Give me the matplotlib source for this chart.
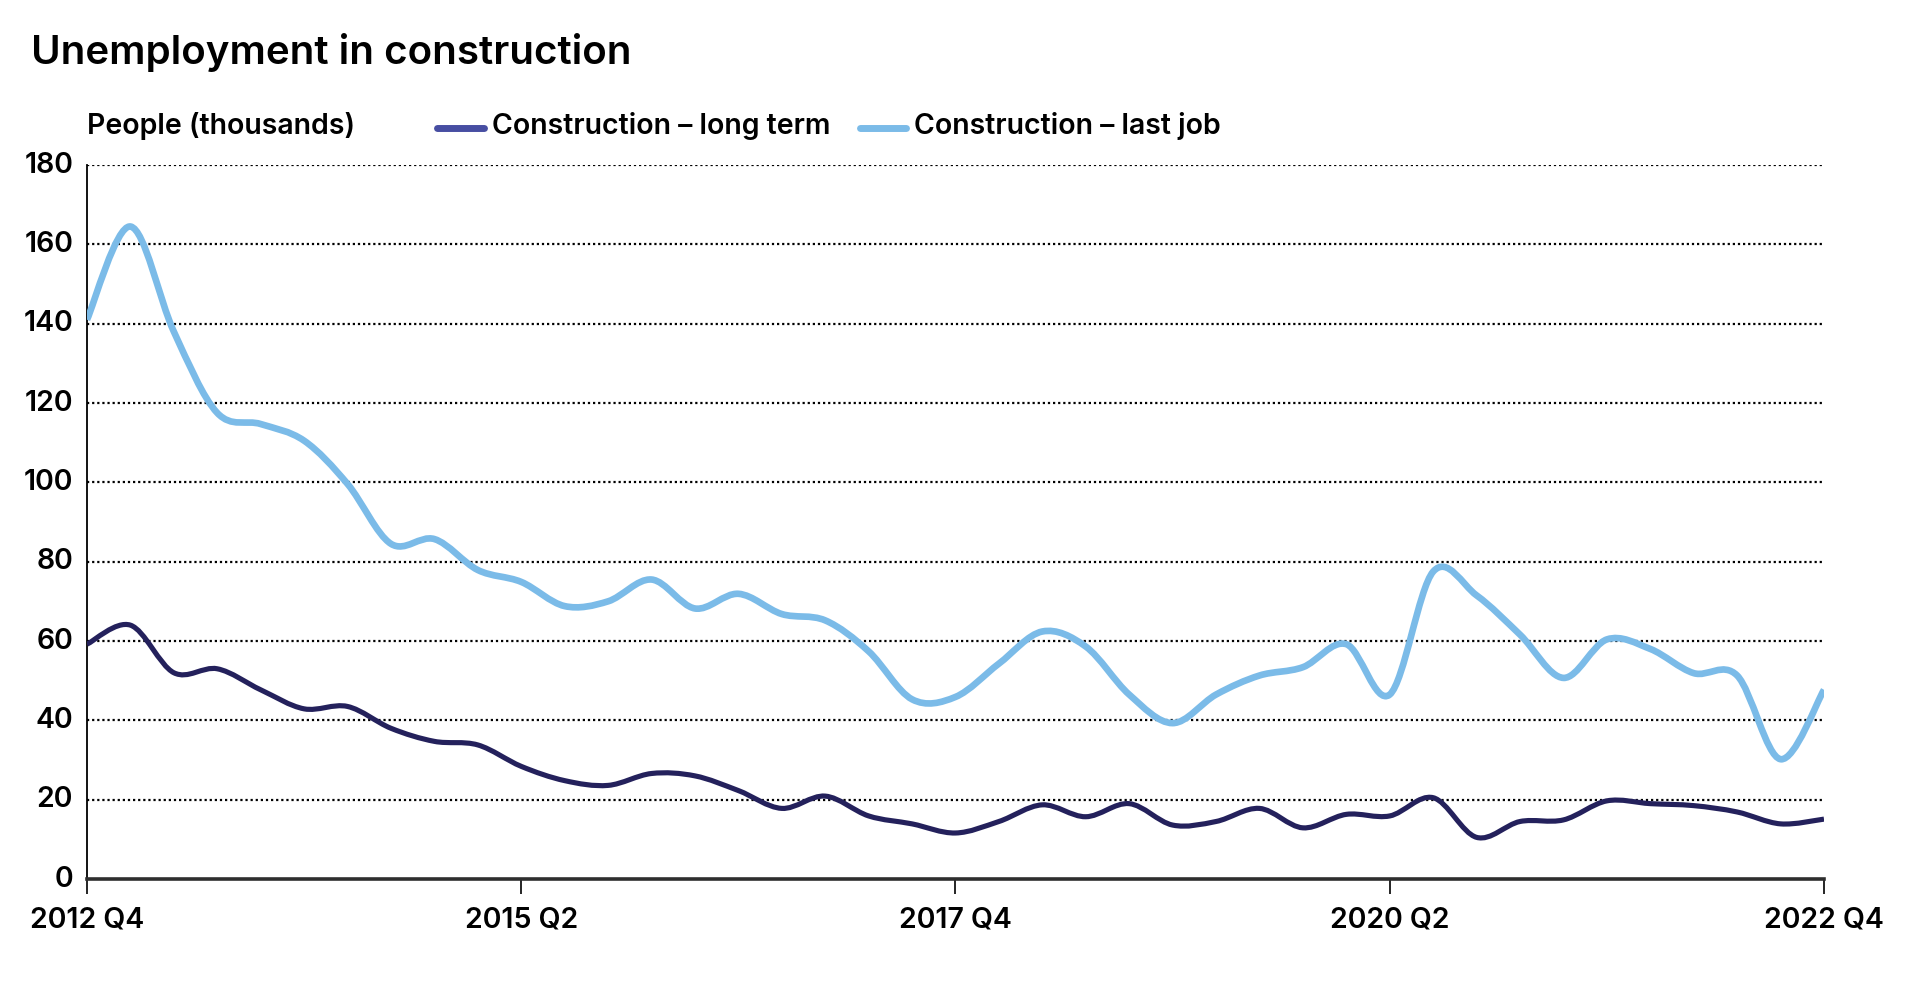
"""Unemployment in construction: long-term vs last-job, quarterly 2012 Q4 - 2022 Q4."""

import numpy as np
import matplotlib
matplotlib.use("Agg")
import matplotlib.pyplot as plt
import matplotlib.transforms as mtransforms
from matplotlib.path import Path
from matplotlib.patches import PathPatch
from matplotlib.lines import Line2D

# quarterly values (thousands), 2012 Q4 .. 2022 Q4
last_job = [141, 164.5, 138, 117.5, 114.7, 110.5, 99.6, 84.5, 85.7, 77.9,
            74.9, 68.8, 70, 75.5, 68.2, 71.9, 66.8, 65.2, 57.4, 45.3,
            45.9, 54.3, 62.4, 58.6, 46.5, 39.3, 46.5, 51.3, 53.4, 59.2,
            46.5, 77.5, 71.5, 61.6, 50.7, 60.4, 58, 51.9, 51.3, 30.2, 47.7]
long_term = [59.2, 64, 52, 53, 47.7, 42.9, 43.5, 38, 34.7, 33.8,
             28.4, 24.8, 23.6, 26.6, 26, 22.3, 17.8, 20.9, 15.9, 13.9,
             11.6, 14.5, 18.7, 15.7, 19, 13.6, 14.5, 17.8, 12.9, 16.3,
             15.9, 20.5, 10.5, 14.5, 14.9, 19.7, 19, 18.5, 16.9, 13.9, 15.1]
tick_pos = [0, 10, 20, 30, 40]
tick_labels = ["2012 Q4", "2015 Q2", "2017 Q4", "2020 Q2", "2022 Q4"]
yticks = [0, 20, 40, 60, 80, 100, 120, 140, 160, 180]

DARK = "#24215c"
LIGHT = "#7bbbe8"
DARK_KEY = "#474ea2"
FS = 20.5

plt.rcParams["font.family"] = ["Inter", "DejaVu Sans"]


def smooth_path(x, y):
    """Catmull-Rom style cubic Bezier through the points (for drawing only)."""
    x = np.asarray(x, float); y = np.asarray(y, float)
    pts = np.column_stack([x, y])
    verts = [pts[0]]; codes = [Path.MOVETO]
    n = len(pts)
    for i in range(n - 1):
        p0 = pts[max(i - 1, 0)]; p1 = pts[i]; p2 = pts[i + 1]; p3 = pts[min(i + 2, n - 1)]
        c1 = p1 + (p2 - p0) / 6.0
        c2 = p2 - (p3 - p1) / 6.0
        verts += [c1, c2, p2]; codes += [Path.CURVE4] * 3
    return Path(verts, codes)


fig = plt.figure(figsize=(19.2, 9.87), dpi=100)
ax = fig.add_axes([0.0453, 0.1084, 0.9047, 0.7234])

x = np.arange(len(last_job))
for vals, col, lw, z in [(last_job, LIGHT, 4.8, 3), (long_term, DARK, 3.7, 4)]:
    ax.add_patch(PathPatch(smooth_path(x, vals), fill=False, edgecolor=col,
                           linewidth=lw, capstyle="butt", joinstyle="round", zorder=z))

ax.set_xlim(0, 40)
ax.set_ylim(0, 180)
ax.set_yticks(yticks)
ax.set_yticklabels([str(v) for v in yticks])
ax.set_xticks(tick_pos)
ax.set_xticklabels(tick_labels)

for v in yticks[1:]:
    ax.axhline(v, color="black", lw=1.6, linestyle=(0, (1, 1.3)), zorder=1)

for side in ["top", "right"]:
    ax.spines[side].set_visible(False)
ax.spines["left"].set_color("black")
ax.spines["left"].set_linewidth(1.3)
ax.spines["bottom"].set_color("#2e2e2e")
ax.spines["bottom"].set_linewidth(2.6)
ax.spines["bottom"].set_zorder(5)

ax.tick_params(axis="y", length=0, pad=10, labelsize=FS)
ax.tick_params(axis="x", length=11, width=1.2, color="black", pad=8, labelsize=FS)
up = mtransforms.ScaledTranslation(0, 4 / 100, fig.dpi_scale_trans)
for lab in ax.get_yticklabels():
    lab.set_transform(lab.get_transform() + up)
for lab in ax.get_xticklabels() + ax.get_yticklabels():
    lab.set_fontweight("semibold")

# title, axis label and key
fig.text(0.016, 0.947, "Unemployment in construction", fontsize=29,
         fontweight="semibold", va="center", ha="left")
fig.text(0.0453, 0.872, "People (thousands)", fontsize=FS, fontweight="semibold",
         va="center", ha="left")
key_y = 0.869
for x0, x1, col, label in [(437, 484, DARK_KEY, "Construction \u2013 long term"),
                           (860, 906, LIGHT, "Construction \u2013 last job")]:
    fig.add_artist(Line2D([x0 / 1920, x1 / 1920], [key_y, key_y], color=col, lw=5,
                          solid_capstyle="round", transform=fig.transFigure))
    fig.text((x1 + 8) / 1920, 0.872, label, fontsize=FS, fontweight="semibold",
             va="center", ha="left")

fig.savefig("out.png", dpi=100)
